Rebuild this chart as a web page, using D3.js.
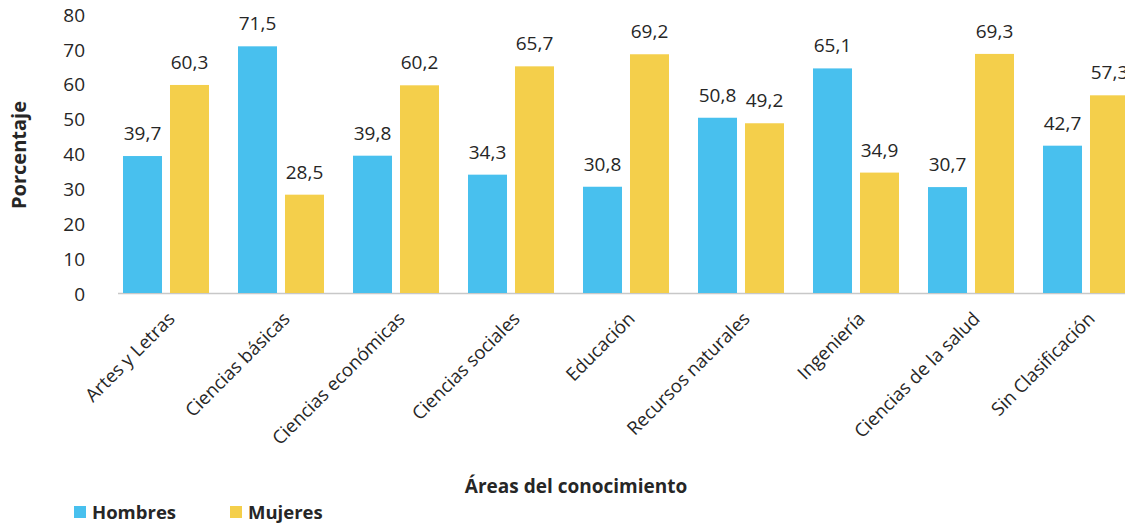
<!DOCTYPE html>
<html>
<head>
<meta charset="utf-8">
<script src="https://cdn.jsdelivr.net/npm/d3@7"></script>
<style>
  html, body { margin: 0; padding: 0; background: #fff; }
  svg { display: block; font-family: "Open Sans", sans-serif; }
</style>
</head>
<body>
<svg id="chart" width="1125" height="524"></svg>
<script>
// Distribución por sexo según área del conocimiento (%)
const categories = ["Artes y Letras", "Ciencias básicas", "Ciencias económicas", "Ciencias sociales",
  "Educación", "Recursos naturales", "Ingeniería", "Ciencias de la salud", "Sin Clasificación"];
const hombres = [39.7, 71.5, 39.8, 34.3, 30.8, 50.8, 65.1, 30.7, 42.7];
const mujeres = [60.3, 28.5, 60.2, 65.7, 69.2, 49.2, 34.9, 69.3, 57.3];
const series = ["Hombres", "Mujeres"];
const colors = ["#48C0EE", "#F4CF4B"];
const yTicks = [0, 10, 20, 30, 40, 50, 60, 70, 80];

const svg = d3.select("#chart");
const fmt = v => d3.format(".1f")(v).replace(".", ",");

const x = d3.scaleBand().domain(categories).range([108.5, 1143.5]).paddingInner(0).paddingOuter(0);
const xs = d3.scaleBand().domain(series).range([14.5, 100.5]).paddingInner(0.17);
const y = d3.scaleLinear().domain([0, 80]).range([293, 17]);

// baseline
svg.append("line")
  .attr("x1", 118).attr("x2", 1125)
  .attr("y1", y(0) + 0.5).attr("y2", y(0) + 0.5)
  .attr("stroke", "#c8c8c8").attr("stroke-width", 1.5);

// y tick labels
const yAxis = d3.axisLeft(y).tickValues(yTicks).tickSize(0).tickPadding(0);
const gy = svg.append("g").attr("transform", "translate(85,0)").call(yAxis);
gy.select(".domain").remove();
gy.selectAll("text")
  .attr("font-family", "Open Sans, sans-serif")
  .attr("font-size", 19).attr("fill", "#262626")
  .attr("dy", null)
  .attr("dominant-baseline", "middle")
  .attr("y", d => 2 - d * 0.035);

const data = categories.map((c, i) => ({ cat: c, vals: [hombres[i], mujeres[i]] }));

const groups = svg.append("g").selectAll("g").data(data).join("g")
  .attr("transform", d => `translate(${x(d.cat)},0)`);

groups.selectAll("rect").data(d => d.vals.map((v, j) => ({ s: series[j], v, j })))
  .join("rect")
  .attr("x", d => xs(d.s))
  .attr("width", xs.bandwidth())
  .attr("y", d => y(d.v))
  .attr("height", d => y(0) - y(d.v))
  .attr("fill", d => colors[d.j]);

groups.selectAll("text.val").data(d => d.vals.map((v, j) => ({ s: series[j], v, j })))
  .join("text").attr("class", "val")
  .attr("x", d => xs(d.s) + xs.bandwidth() / 2)
  .attr("y", d => y(d.v) - 16)
  .attr("text-anchor", "middle")
  .attr("font-size", 19).attr("fill", "#262626")
  .text(d => fmt(d.v));

// category labels, rotated
svg.append("g").selectAll("text").data(categories).join("text")
  .attr("transform", d => `translate(${x(d) + x.bandwidth() / 2 + 10},${y(0) + 27}) rotate(-45)`)
  .attr("text-anchor", "end")
  .attr("font-size", 18.5).attr("fill", "#262626")
  .text(d => d);

// axis titles
svg.append("text")
  .attr("transform", `translate(26,155) rotate(-90)`)
  .attr("text-anchor", "middle")
  .attr("font-size", 20).attr("font-weight", "bold").attr("fill", "#262626")
  .text("Porcentaje");

svg.append("text")
  .attr("x", 576).attr("y", 493)
  .attr("text-anchor", "middle")
  .attr("font-size", 19).attr("font-weight", "bold").attr("fill", "#262626")
  .text("Áreas del conocimiento");

// legend
const legendX = [74, 230];
const lg = svg.append("g").selectAll("g").data(series).join("g")
  .attr("transform", (d, i) => `translate(${legendX[i]},506)`);
lg.append("rect").attr("width", 12).attr("height", 12).attr("fill", (d, i) => colors[i]);
lg.append("text").attr("x", 18).attr("y", 12.5)
  .attr("font-size", 18.5).attr("font-weight", "bold").attr("fill", "#262626")
  .text(d => d);
</script>
</body>
</html>
